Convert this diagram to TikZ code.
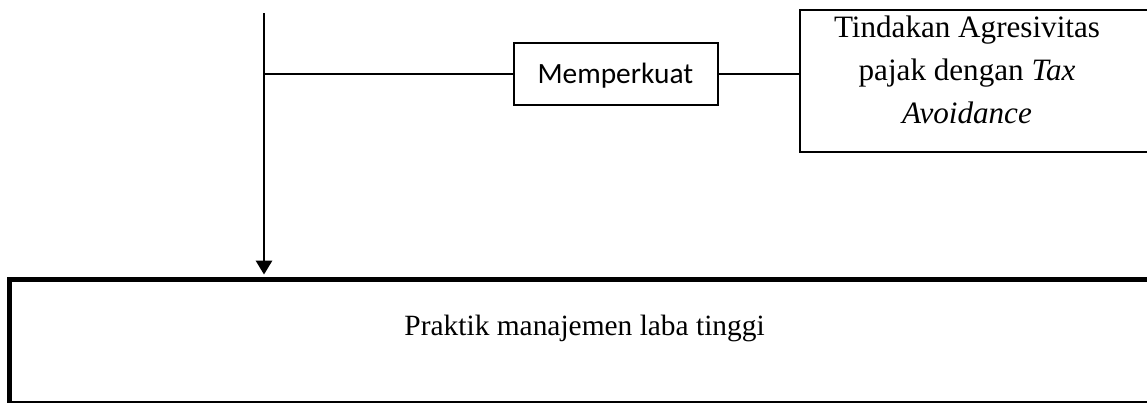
\documentclass[tikz,border=0pt]{standalone}
\usepackage{fontspec}
\setmainfont{Liberation Serif}
\newfontfamily\calibrifont{Carlito}
\usetikzlibrary{arrows.meta}
\begin{document}
\begin{tikzpicture}[x=0.408pt,y=-0.408pt,
  thinbox/.style={draw=black, line width=1pt, inner sep=0pt},
  thickbox/.style={draw=black, line width=2pt, inner sep=0pt},
  conn/.style={draw=black, line width=1pt},
  txt/.style={inner sep=0pt, font=\fontsize{12pt}{17pt}\selectfont}]
\useasboundingbox (0,0) rectangle (1147,402);
\begin{scope}
\clip (0,0) rectangle (1147,402);
\node[thinbox, minimum width=83.2pt, minimum height=25.3pt] (mem) at (616,74) {};
\node[thinbox, minimum width=146.9pt, minimum height=57.9pt] (rb) at (980,81) {};
\node[thickbox, minimum width=469.4pt, minimum height=50.4pt] (bot) at (584.75,341.25) {};
\end{scope}
\node[txt, anchor=base west, font=\calibrifont\fontsize{12pt}{14pt}\selectfont] (memtxt) at (537,83) {Memperkuat};
\node[txt, align=center, font=\fontsize{12.7pt}{17.6pt}\selectfont] (rbtxt) at (967,70) {Tindakan Agresivitas\\pajak dengan \textit{Tax}\\\textit{Avoidance}};
\node[txt, anchor=base west] (bottxt) at (404,335) {Praktik manajemen laba tinggi};
\coordinate (top) at (264,13);
\draw[conn, line width=1.2pt, -{Triangle[length=5.7pt,width=6.5pt]}, shorten >=1pt] (top) -- (top |- bot.north);
\draw[conn] (top |- mem.west) -- (mem.west);
\draw[conn] (mem.east) -- (mem.east -| rb.west);
\end{tikzpicture}
\end{document}
